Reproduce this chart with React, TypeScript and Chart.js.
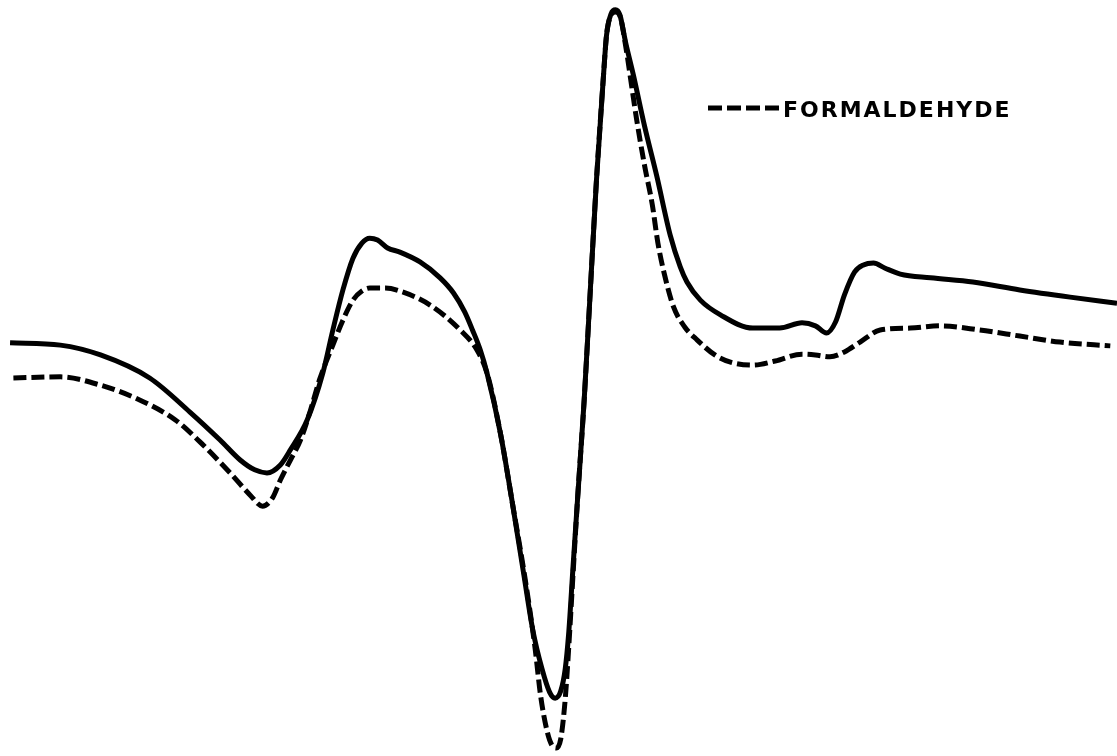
import React, { useEffect, useRef } from "react";
import { Chart, registerables } from "chart.js";

Chart.register(...registerables);

// Field position (arbitrary units, 0–100) and derivative signal amplitude (arbitrary units)
const solidX = [0.9, 5.4, 9.0, 13.4, 17.0, 19.7, 21.5, 22.8, 23.9, 25.1, 26.0, 27.5, 28.9, 29.8, 30.7, 31.6, 32.4, 33.1, 33.8, 34.7, 35.8, 37.6, 39.4, 40.6, 41.6, 42.3, 43.0, 43.6, 44.8, 45.9, 46.9, 47.7, 48.5, 49.2, 49.7, 50.2, 50.6, 50.9, 51.3, 51.7, 52.3, 52.8, 53.4, 54.0, 54.3, 54.7, 55.1, 55.5, 56.0, 56.7, 57.7, 58.8, 60.0, 60.9, 61.5, 62.7, 64.5, 67.4, 69.8, 71.8, 73.0, 74.0, 74.8, 75.6, 76.5, 77.3, 78.2, 79.2, 80.6, 83.3, 87.1, 91.3, 95.8, 100];
const solidY = [9.3, 8.7, 6.1, 0, -9.0, -16.4, -21.7, -24.3, -25.1, -23.0, -19.0, -11.1, 1.3, 12.7, 23.3, 31.7, 35.7, 37.0, 36.5, 34.4, 33.3, 30.7, 26.5, 22.5, 17.5, 12.7, 7.4, 1.3, -14.6, -33.6, -52.1, -66.7, -76.7, -83.1, -84.7, -82.8, -77.0, -68.0, -50.0, -32.3, -5.8, 20.6, 52.4, 78.8, 90.7, 96.3, 97.4, 96.0, 88.9, 80.2, 66.7, 53.4, 37.8, 29.4, 25.4, 20.6, 16.7, 13.2, 13.2, 14.6, 13.8, 11.9, 14.8, 22.0, 28.0, 29.9, 30.4, 29.1, 27.5, 26.5, 25.4, 23.3, 21.4, 19.8];

const formX = [1.2, 5.4, 9.0, 12.5, 15.7, 17.9, 20.6, 22.4, 23.5, 24.4, 25.1, 26.0, 26.9, 27.8, 28.6, 29.8, 30.7, 31.6, 32.4, 33.1, 34.5, 35.8, 38.5, 41.2, 42.7, 43.6, 44.8, 45.9, 47.0, 47.9, 48.4, 49.0, 49.4, 49.8, 50.2, 50.6, 50.9, 51.3, 51.7, 52.3, 52.8, 53.4, 54.0, 54.3, 54.7, 55.1, 55.5, 56.0, 56.6, 57.0, 57.7, 58.4, 58.9, 59.5, 60.3, 61.3, 62.4, 64.0, 65.4, 67.4, 69.4, 71.8, 73.0, 74.3, 75.6, 77.0, 78.8, 81.5, 84.2, 87.7, 91.3, 94.9, 99.4];
const formY = [0, 0.3, -1.9, -5.8, -11.1, -16.9, -25.1, -31.0, -33.9, -31.7, -27.0, -21.7, -16.4, -8.5, -0.5, 8.7, 15.3, 20.6, 23.0, 23.8, 23.8, 23.0, 19.3, 12.7, 7.4, 1.3, -14.6, -33.6, -52.9, -71.4, -84.1, -93.7, -97.1, -97.9, -95.5, -85.0, -72.0, -52.0, -32.3, -5.8, 20.6, 52.4, 78.8, 90.7, 96.0, 96.8, 95.8, 88.1, 76.2, 68.3, 56.3, 45.8, 35.7, 27.2, 18.8, 13.5, 10.1, 6.1, 4.2, 3.4, 4.5, 6.3, 6.1, 5.6, 6.9, 9.5, 12.7, 13.2, 13.8, 12.7, 11.1, 9.5, 8.5];

const legendLabel = "FORMALDEHYDE";

const legendPlugin = {
  id: "scanLegend",
  afterDraw(chart: any) {
    const ctx = chart.ctx as CanvasRenderingContext2D;
    ctx.save();
    ctx.strokeStyle = "#000";
    ctx.lineWidth = 5;
    ctx.setLineDash([14, 5]);
    ctx.beginPath();
    ctx.moveTo(708, 108);
    ctx.lineTo(780, 108);
    ctx.stroke();
    ctx.setLineDash([]);
    ctx.fillStyle = "#000";
    ctx.font = "bold 22px 'DejaVu Sans'";
    (ctx as any).letterSpacing = "2px";
    ctx.textBaseline = "alphabetic";
    ctx.textAlign = "left";
    ctx.fillText(legendLabel, 783, 117);
    ctx.restore();
  },
};

export default function App() {
  const ref = useRef<HTMLCanvasElement | null>(null);
  useEffect(() => {
    if (!ref.current) return;
    const chart = new Chart(ref.current, {
      type: "scatter",
      data: {
        datasets: [
          {
            label: "Control",
            data: solidX.map((x, i) => ({ x, y: solidY[i] })),
            showLine: true,
            borderColor: "#000",
            borderWidth: 5,
            pointRadius: 0,
            cubicInterpolationMode: "monotone",
            fill: false,
          },
          {
            label: legendLabel,
            data: formX.map((x, i) => ({ x, y: formY[i] })),
            showLine: true,
            borderColor: "#000",
            borderWidth: 5,
            borderDash: [13, 5],
            pointRadius: 0,
            cubicInterpolationMode: "monotone",
            fill: false,
          },
        ],
      },
      options: {
        animation: false,
        responsive: false,
        maintainAspectRatio: false,
        layout: { padding: 0 },
        plugins: { legend: { display: false }, tooltip: { enabled: false } },
        scales: {
          x: { type: "linear", min: 0, max: 100, display: false },
          y: { type: "linear", min: -100, max: 100, display: false },
        },
      },
      plugins: [legendPlugin],
    });
    return () => chart.destroy();
  }, []);
  return (
    <div style={{ position: "fixed", left: 0, top: 0, width: 1117, height: 756, background: "#fff" }}>
      <canvas ref={ref} width={1117} height={756} style={{ display: "block" }} />
    </div>
  );
}
